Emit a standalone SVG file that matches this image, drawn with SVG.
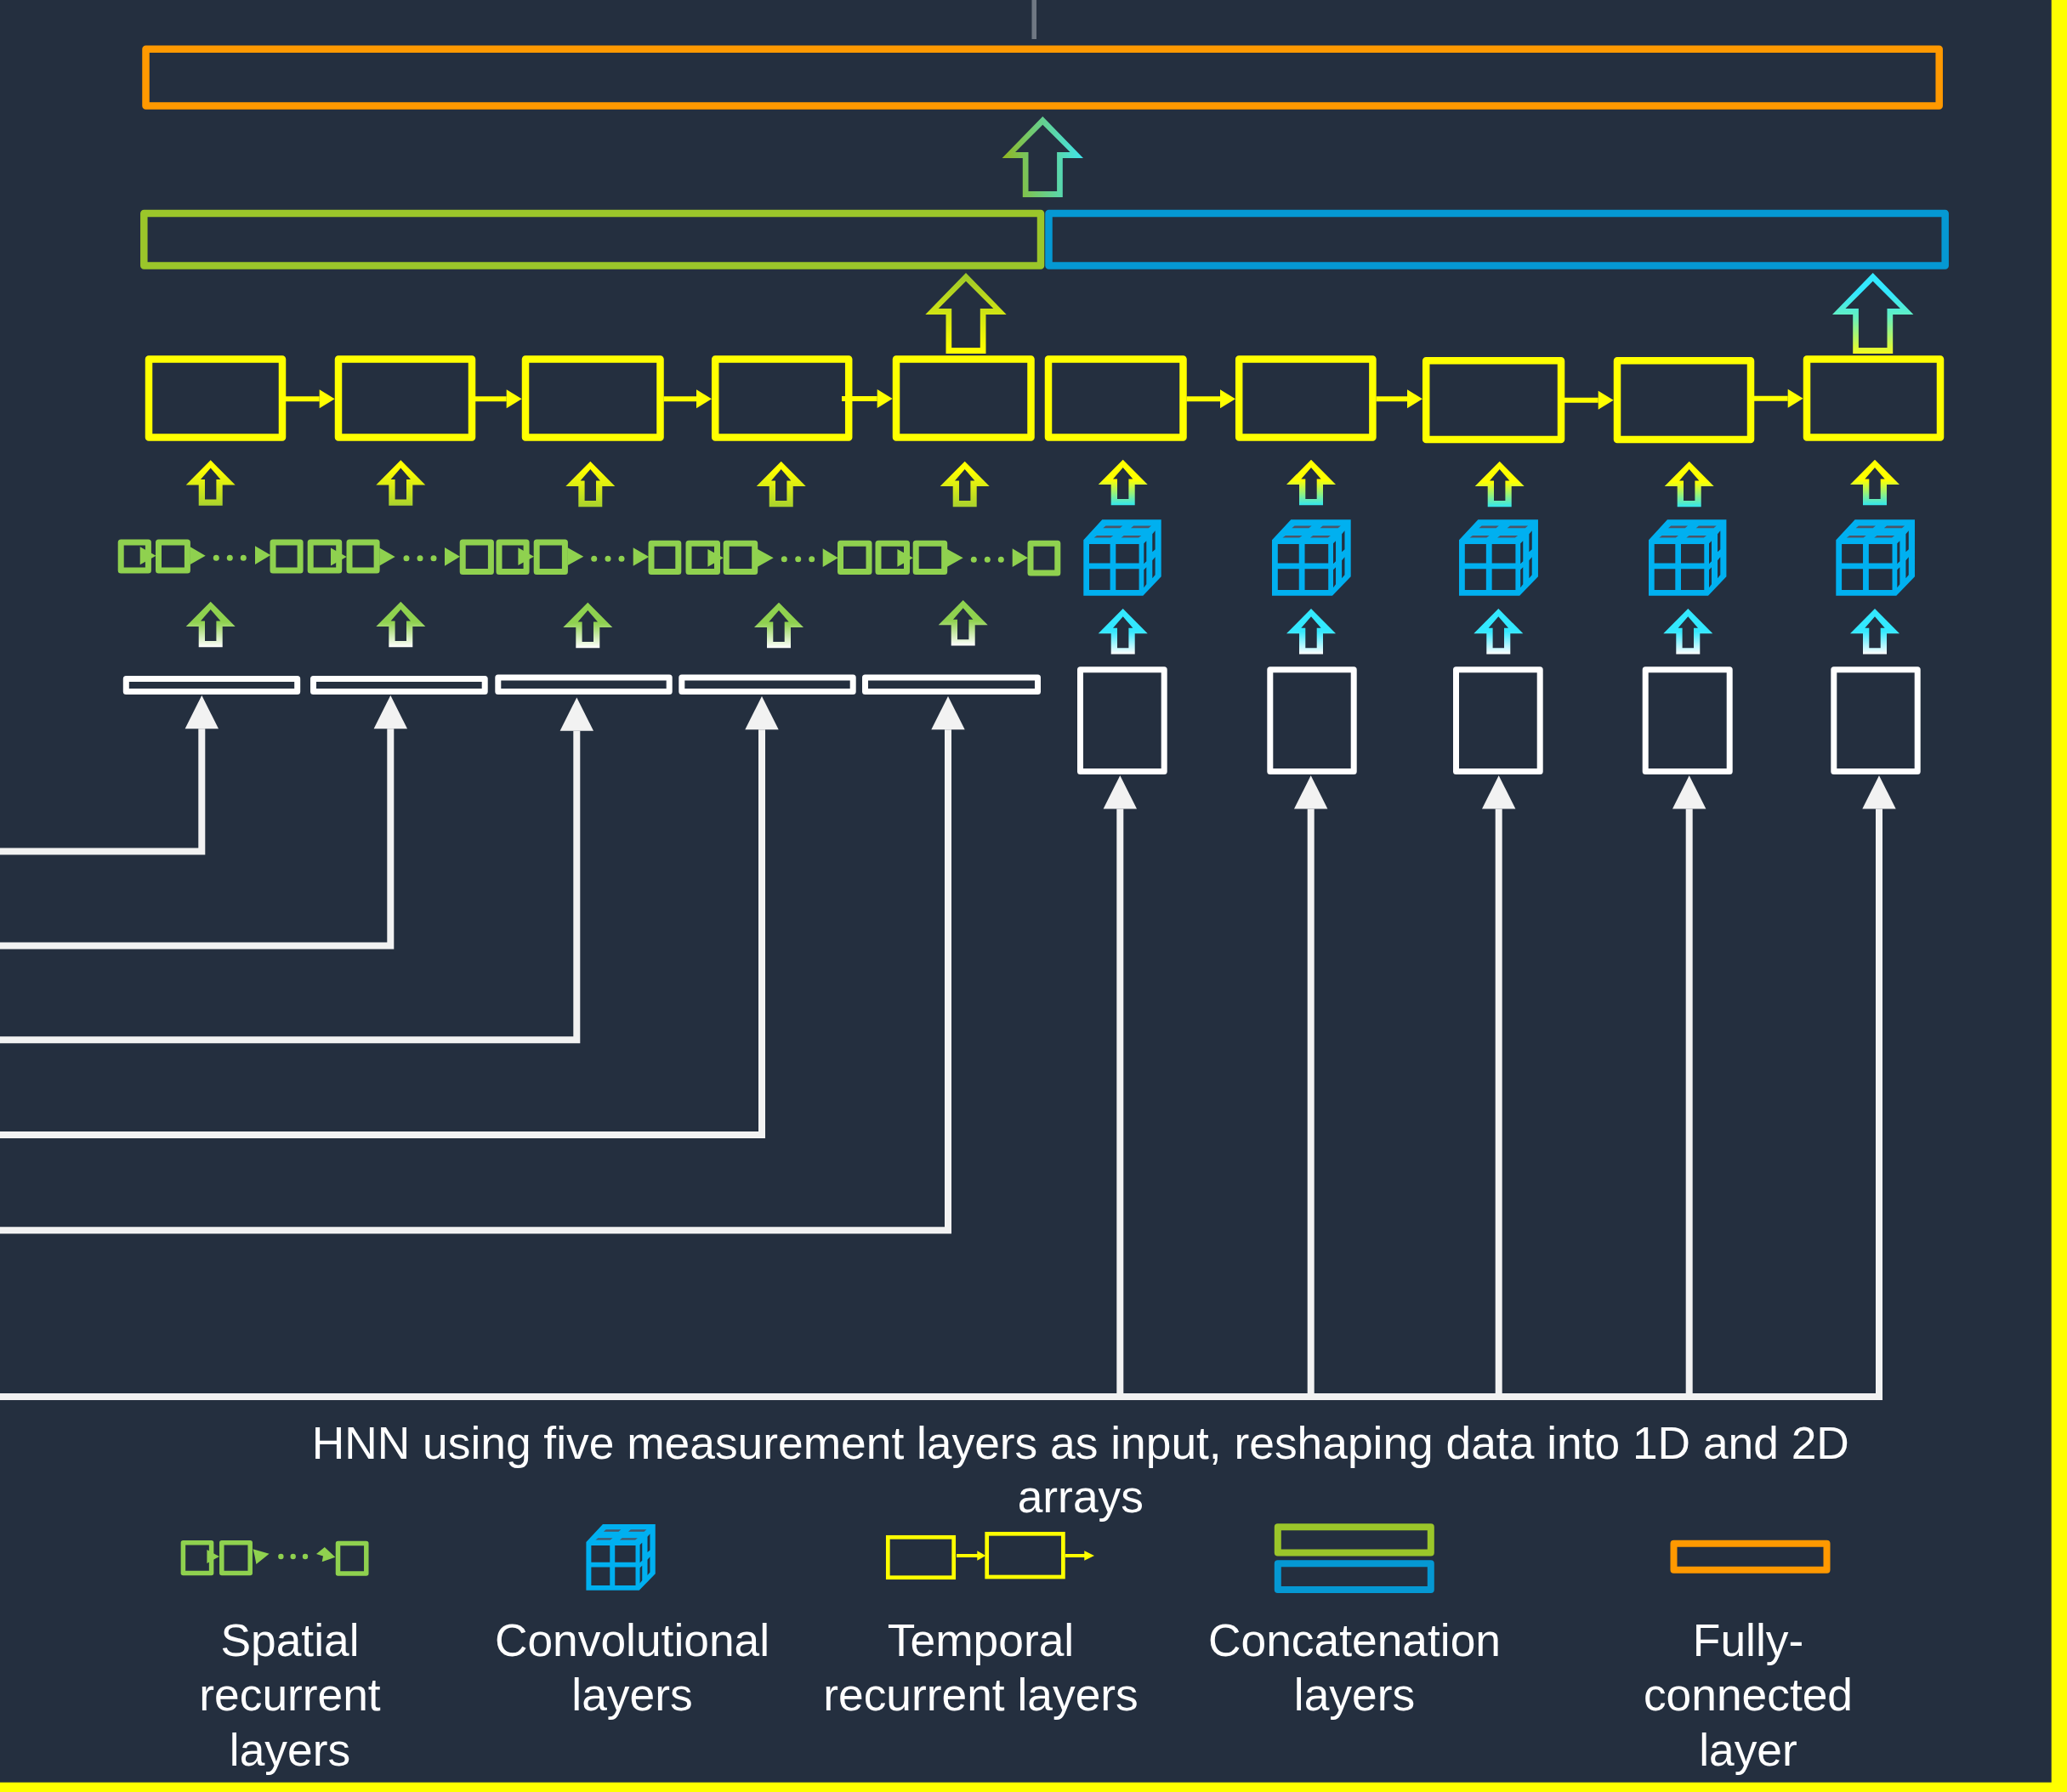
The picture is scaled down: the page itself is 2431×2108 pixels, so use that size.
<svg xmlns="http://www.w3.org/2000/svg" xmlns:xlink="http://www.w3.org/1999/xlink" width="2431" height="2108" viewBox="0 0 2431 2108">
<style>
.box{fill:none;stroke-linejoin:round}
.y{stroke:#FFFF00;stroke-width:8.5}
.w{stroke:#FFFFFF;stroke-width:7}
.g{stroke:#8FD14F;stroke-width:7}
.gf{fill:#8FD14F}
.o{stroke:#FF9900;stroke-width:8.5}
.cg{stroke:#9BC62A;stroke-width:8.5}
.cb{stroke:#0598D3;stroke-width:8.5}
.wire{fill:none;stroke:#F2F2F2;stroke-width:8;stroke-linejoin:miter;marker-end:url(#hw)}
.ywire{fill:none;stroke:#FFFF00;stroke-width:6;marker-end:url(#hy)}
text{font-family:"Liberation Sans",Arial,sans-serif;font-size:53.33px;fill:#FFFFFF;text-anchor:middle}
</style>
<defs>
<marker id="hw" markerUnits="userSpaceOnUse" markerWidth="40" markerHeight="40" refX="0" refY="20" orient="auto" overflow="visible"><path d="M0,0.3L39.3,20L0,39.7Z" fill="#F2F2F2"/></marker>
<marker id="hy" markerUnits="userSpaceOnUse" markerWidth="18" markerHeight="22" refX="0" refY="11" orient="auto" overflow="visible"><path d="M0,0L18,11L0,22Z" fill="#FFFF00"/></marker>
<linearGradient id="gTop" x1="0" y1="0.55" x2="1" y2="0.45"><stop offset="0" stop-color="#92B61E"/><stop offset="1" stop-color="#3FE6EE"/></linearGradient>
<linearGradient id="gGY" x1="0" y1="0" x2="0" y2="1"><stop offset="0" stop-color="#9BC62A"/><stop offset="0.95" stop-color="#FFFF00"/></linearGradient>
<linearGradient id="gCY" x1="0" y1="0" x2="0" y2="1"><stop offset="0.25" stop-color="#33E8FF"/><stop offset="0.55" stop-color="#66F0BE"/><stop offset="1" stop-color="#F4FC1E"/></linearGradient>
<linearGradient id="gYG" x1="0" y1="0" x2="0" y2="1"><stop offset="0.2" stop-color="#FFFF00"/><stop offset="1" stop-color="#A9D22E"/></linearGradient>
<linearGradient id="gYC" x1="0" y1="0" x2="0" y2="1"><stop offset="0.45" stop-color="#FFFF00"/><stop offset="1" stop-color="#33E6EE"/></linearGradient>
<linearGradient id="gGW" x1="0" y1="0" x2="0" y2="1"><stop offset="0.45" stop-color="#8FD14F"/><stop offset="1" stop-color="#FFFFFF"/></linearGradient>
<linearGradient id="gCW" x1="0" y1="0" x2="0" y2="1"><stop offset="0.5" stop-color="#33E8FF"/><stop offset="1" stop-color="#FFFFFF"/></linearGradient>
<path id="ua" fill-rule="evenodd" d="M0,0L29,29.3H14V53.5H-14V29.3H-29ZM0,9.3L-11.7,22.7H-6.7V46.3H6.7V22.7H11.7Z"/>
<path id="ub" fill-rule="evenodd" d="M0,0L47.7,49H23.5V95H-23.5V49H-47.7ZM0,9.7L-32.3,42H-16.8V88H16.8V42H32.3Z"/>
<g id="cube">
<path fill="#00B0F0" fill-rule="evenodd" d="M0,24L22,0H91.4V67L70,89.4H0ZM6.7,28.7V51.3H31.3V28.7ZM38,28.7V51.3H65.3V28.7ZM6.7,58V82.7H31.3V58ZM38,58V82.7H65.3V58ZM71,28L74,25V49L71,52ZM81,17L84.3,13V35L81,38ZM71,59L74,56V76L71,80ZM81,48L84.3,44V65L81,69Z"/>
<path fill="#4A5568" d="M12.3,21.3L15.7,18.7H35L31.8,21.3ZM44.3,21.3L47.5,18.7H68L64.8,21.3ZM23,10L26.2,7.3H46L42.8,10ZM55.7,10L58.9,7.3H79.7L76.5,10Z"/>
</g>
</defs>
<rect id="background" width="2431" height="2108" fill="#242F3F"/>
<rect id="border-right" x="2412.7" y="0" width="18.3" height="2108" fill="#FFFF00"/>
<rect id="border-bottom" x="0" y="2096.7" width="2431" height="11.3" fill="#FFFF00"/>
<rect id="top-stub" x="1213.5" y="0" width="5.5" height="46" fill="#6F7883"/>

<g id="connectors">
<path class="wire" d="M0,1001.5H237.3V857.3"/>
<path class="wire" d="M0,1112.4H459.3V857.3"/>
<path class="wire" d="M0,1223.3H678.3V859.7"/>
<path class="wire" d="M0,1334.9H896V858.3"/>
<path class="wire" d="M0,1447.3H1115V858.3"/>
<path d="M0,1643H2214" fill="none" stroke="#F2F2F2" stroke-width="8"/>
<path class="wire" d="M1317.3,1647V951.6"/>
<path class="wire" d="M1541.7,1647V951.6"/>
<path class="wire" d="M1762.7,1647V951.6"/>
<path class="wire" d="M1986.7,1647V951.6"/>
<path class="wire" d="M2210,1647V951.6"/>
<path class="ywire" d="M336,469.3H375.7"/>
<path class="ywire" d="M559,469.3H595.7"/>
<path class="ywire" d="M780.5,469.3H819"/>
<path class="ywire" d="M990,469H1031.7"/>
<path class="ywire" d="M1395.5,469.3H1435"/>
<path class="ywire" d="M1618.5,469.3H1655"/>
<path class="ywire" d="M1840,470.7H1879.7"/>
<path class="ywire" d="M2063,468.7H2102.7"/>
</g>

<g id="arrows-up">
<use href="#ub" transform="translate(1226.3,137)" fill="url(#gTop)"/>
<use href="#ub" transform="translate(1136,321)" fill="url(#gGY)"/>
<use href="#ub" transform="translate(2202.7,321)" fill="url(#gCY)"/>
<use href="#ua" transform="translate(247.7,541.3)" fill="url(#gYG)"/>
<use href="#ua" transform="translate(471.3,541.3)" fill="url(#gYG)"/>
<use href="#ua" transform="translate(694.3,542.7)" fill="url(#gYG)"/>
<use href="#ua" transform="translate(918.7,542.7)" fill="url(#gYG)"/>
<use href="#ua" transform="translate(1134.7,542.7)" fill="url(#gYG)"/>
<use href="#ua" transform="translate(1320.7,540.7)" fill="url(#gYC)"/>
<use href="#ua" transform="translate(1542,540.7)" fill="url(#gYC)"/>
<use href="#ua" transform="translate(1763.7,542.7)" fill="url(#gYC)"/>
<use href="#ua" transform="translate(1986.7,542.7)" fill="url(#gYC)"/>
<use href="#ua" transform="translate(2205,540.7)" fill="url(#gYC)"/>
<use href="#ua" transform="translate(247.7,707.7)" fill="url(#gGW)"/>
<use href="#ua" transform="translate(471.3,707.7)" fill="url(#gGW)"/>
<use href="#ua" transform="translate(691.3,708.7)" fill="url(#gGW)"/>
<use href="#ua" transform="translate(916,708.7)" fill="url(#gGW)"/>
<use href="#ua" transform="translate(1132.7,706)" fill="url(#gGW)"/>
<use href="#ua" transform="translate(1320.7,716)" fill="url(#gCW)"/>
<use href="#ua" transform="translate(1542,716)" fill="url(#gCW)"/>
<use href="#ua" transform="translate(1762.3,716)" fill="url(#gCW)"/>
<use href="#ua" transform="translate(1985.3,716)" fill="url(#gCW)"/>
<use href="#ua" transform="translate(2205,716)" fill="url(#gCW)"/>
</g>

<g id="fully-connected"><rect class="box o" x="171.5" y="57.8" width="2109.2" height="66.7"/></g>
<g id="concat-spatial"><rect class="box cg" x="169.3" y="251" width="1054.7" height="61.5"/></g>
<g id="concat-conv"><rect class="box cb" x="1233.5" y="251" width="1054.2" height="61.5"/></g>

<g id="temporal-1"><rect class="box y" x="175" y="422.5" width="157" height="92"/></g>
<g id="temporal-2"><rect class="box y" x="398" y="422.5" width="157" height="92"/></g>
<g id="temporal-3"><rect class="box y" x="618" y="422.5" width="158.5" height="92"/></g>
<g id="temporal-4"><rect class="box y" x="841.2" y="422.5" width="157" height="92"/></g>
<g id="temporal-5"><rect class="box y" x="1054" y="422.5" width="158.5" height="92"/></g>
<g id="temporal-6"><rect class="box y" x="1233" y="422.5" width="158.5" height="92"/></g>
<g id="temporal-7"><rect class="box y" x="1457.2" y="422.5" width="157.2" height="92"/></g>
<g id="temporal-8"><rect class="box y" x="1677.2" y="424.2" width="158.8" height="92.8"/></g>
<g id="temporal-9"><rect class="box y" x="1902" y="424.2" width="157" height="92.8"/></g>
<g id="temporal-10"><rect class="box y" x="2125" y="422.5" width="157" height="92"/></g>

<g id="spatial-1">
<rect class="box g" x="142.2" y="638" width="32.2" height="33.1"/><rect class="box g" x="186.5" y="638" width="33.9" height="33.1"/><rect class="box g" x="321" y="638" width="32.1" height="33.1"/>
<path class="gf" d="M164.7,643.2L183.5,653.7L164.7,664.2ZM223.7,643.3L241.7,653.7L223.7,664ZM300,642.3L318.3,653L300,664Z"/>
<g class="gf"><circle cx="254.3" cy="656.3" r="3.5"/><circle cx="270.3" cy="656.3" r="3.5"/><circle cx="286.3" cy="656.3" r="3.5"/></g>
</g>
<g id="spatial-2">
<rect class="box g" x="365.2" y="638" width="33.5" height="33.1"/><rect class="box g" x="411" y="638" width="32.1" height="33.1"/><rect class="box g" x="544.2" y="638" width="33.2" height="34.5"/>
<path class="gf" d="M389,644.5L407.7,655L389,665.5ZM446.3,644.5L464.7,655L446.3,665.5ZM523,644L541,654.8L523,665.7Z"/>
<g class="gf"><circle cx="478" cy="656.7" r="3.5"/><circle cx="494" cy="656.7" r="3.5"/><circle cx="510" cy="656.7" r="3.5"/></g>
</g>
<g id="spatial-3">
<rect class="box g" x="587" y="638" width="32.1" height="34.5"/><rect class="box g" x="631.2" y="638" width="33.2" height="34.5"/><rect class="box g" x="766" y="639.2" width="31.8" height="33.2"/>
<path class="gf" d="M609.4,644.3L628,654.7L609.4,665ZM667.7,644.3L686.3,654.7L667.7,665ZM744.7,644.3L763.3,655L744.7,665.7Z"/>
<g class="gf"><circle cx="698.7" cy="657.3" r="3.5"/><circle cx="715" cy="657.3" r="3.5"/><circle cx="731" cy="657.3" r="3.5"/></g>
</g>
<g id="spatial-4">
<rect class="box g" x="810" y="639.2" width="33.5" height="33.2"/><rect class="box g" x="854.2" y="639.2" width="33.5" height="33.2"/><rect class="box g" x="988.5" y="639.2" width="33.5" height="33.2"/>
<path class="gf" d="M832.4,646L851,656.3L832.4,666.7ZM891,646L909.7,656.3L891,666.7ZM967.7,645.3L985.7,656.2L967.7,667Z"/>
<g class="gf"><circle cx="922.3" cy="657.7" r="3.5"/><circle cx="938.7" cy="657.7" r="3.5"/><circle cx="954.7" cy="657.7" r="3.5"/></g>
</g>
<g id="spatial-5">
<rect class="box g" x="1033" y="639.2" width="33.5" height="33.2"/><rect class="box g" x="1077.2" y="639.2" width="33.5" height="33.2"/><rect class="box g" x="1212" y="639.2" width="31.8" height="34.8"/>
<path class="gf" d="M1055.4,646L1074,656.3L1055.4,666.7ZM1114,646L1132.7,656.3L1114,666.7ZM1190.7,645.3L1209,656.2L1190.7,667Z"/>
<g class="gf"><circle cx="1145.3" cy="658.3" r="3.5"/><circle cx="1161.3" cy="658.3" r="3.5"/><circle cx="1177.3" cy="658.3" r="3.5"/></g>
</g>

<g id="conv-1"><use href="#cube" transform="translate(1274.3,611.3)"/></g>
<g id="conv-2"><use href="#cube" transform="translate(1496,611.3) scale(1.014,1)"/></g>
<g id="conv-3"><use href="#cube" transform="translate(1716,611.3) scale(1.017,1)"/></g>
<g id="conv-4"><use href="#cube" transform="translate(1939,611.3)"/></g>
<g id="conv-5"><use href="#cube" transform="translate(2159.3,611.3) scale(1.014,1)"/></g>

<g id="input-1d-1"><rect class="box w" x="148.3" y="798.4" width="201.4" height="15"/></g>
<g id="input-1d-2"><rect class="box w" x="368.5" y="798.4" width="201.7" height="15"/></g>
<g id="input-1d-3"><rect class="box w" x="585.8" y="797" width="201.4" height="16.4"/></g>
<g id="input-1d-4"><rect class="box w" x="801.8" y="797" width="201.4" height="16.4"/></g>
<g id="input-1d-5"><rect class="box w" x="1017.5" y="797" width="203" height="16.4"/></g>

<g id="input-2d-1"><rect class="box w" x="1270.5" y="787.8" width="98.7" height="119.7"/></g>
<g id="input-2d-2"><rect class="box w" x="1493.8" y="787.8" width="98.4" height="119.7"/></g>
<g id="input-2d-3"><rect class="box w" x="1712.5" y="787.8" width="98.7" height="119.7"/></g>
<g id="input-2d-4"><rect class="box w" x="1935.2" y="787.8" width="99" height="119.7"/></g>
<g id="input-2d-5"><rect class="box w" x="2156.8" y="787.8" width="98.4" height="119.7"/></g>

<g id="caption"><text x="1270.8" y="1715.7">HNN using five measurement layers as input, reshaping data into 1D and 2D</text><text x="1270.8" y="1779.3">arrays</text></g>

<g id="legend-spatial">
<rect x="215.4" y="1814.8" width="33.2" height="35.7" fill="none" stroke="#8FD14F" stroke-width="5.5" stroke-linejoin="round"/>
<rect x="260.8" y="1814.8" width="33.4" height="35.7" fill="none" stroke="#8FD14F" stroke-width="5.5" stroke-linejoin="round"/>
<rect x="397.5" y="1815.5" width="33.3" height="35.5" fill="none" stroke="#8FD14F" stroke-width="5.5" stroke-linejoin="round"/>
<path class="gf" d="M243.4,1823L258,1831L243.4,1839ZM297.5,1822.3L316.6,1827.7L301.4,1840L299.5,1830ZM381.8,1820L394.3,1831.7L378.7,1837.3L380,1830.5L372,1828Z"/>
<g class="gf"><circle cx="330.4" cy="1831" r="3.2"/><circle cx="344.7" cy="1831" r="3.2"/><circle cx="359" cy="1831" r="3.2"/></g>
<text x="341" y="1948.3">Spatial</text><text x="341" y="2012.3">recurrent</text><text x="341" y="2076.7">layers</text>
</g>
<g id="legend-conv">
<use href="#cube" transform="translate(689.4,1793) scale(.89,.87)"/>
<text x="743.5" y="1948.3">Convolutional</text><text x="743.5" y="2012.3">layers</text>
</g>
<g id="legend-temporal">
<rect x="1044.3" y="1808.3" width="77.4" height="47.4" fill="none" stroke="#FFFF00" stroke-width="4.7"/>
<rect x="1160.7" y="1804.3" width="89.7" height="50.7" fill="none" stroke="#FFFF00" stroke-width="4.7"/>
<path d="M1125,1830H1150M1252.7,1830H1276" fill="none" stroke="#FFFF00" stroke-width="4"/>
<path d="M1149.3,1824.2L1159.3,1830L1149.3,1835.8ZM1275.3,1824.2L1287,1830L1275.3,1835.8Z" fill="#FFFF00"/>
<text x="1153.5" y="1948.3">Temporal</text><text x="1153.5" y="2012.3">recurrent layers</text>
</g>
<g id="legend-concat">
<rect x="1502.8" y="1796.2" width="180" height="30.2" fill="none" stroke="#9BC62A" stroke-width="8" stroke-linejoin="round"/>
<rect x="1502.8" y="1839.3" width="180" height="30.7" fill="none" stroke="#0598D3" stroke-width="8" stroke-linejoin="round"/>
<text x="1593" y="1948.3">Concatenation</text><text x="1593" y="2012.3">layers</text>
</g>
<g id="legend-fc">
<rect x="1968.5" y="1815.7" width="180" height="31" fill="none" stroke="#FF9900" stroke-width="8" stroke-linejoin="round"/>
<text x="2056" y="1948.3">Fully-</text><text x="2056" y="2012.3">connected</text><text x="2056" y="2076.7">layer</text>
</g>
</svg>
